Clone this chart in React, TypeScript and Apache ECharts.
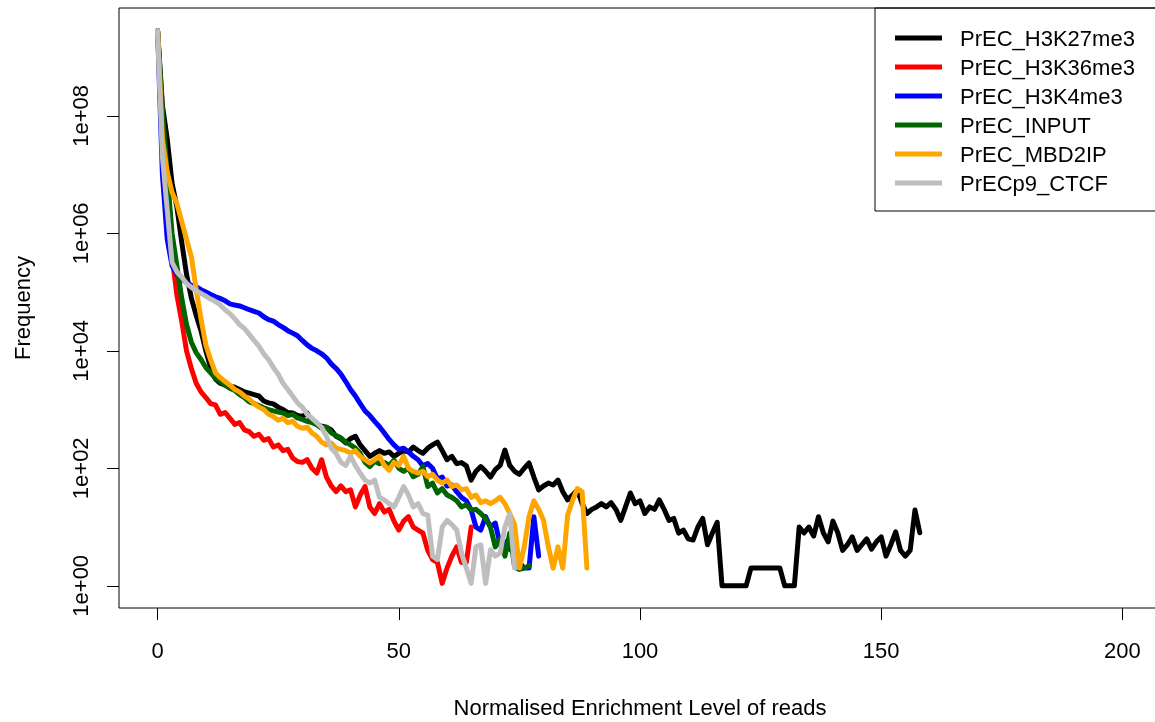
import React, { useEffect, useRef } from "react";
import * as echarts from "echarts";

const seriesNames = [
  "PrEC_H3K27me3",
  "PrEC_H3K36me3",
  "PrEC_H3K4me3",
  "PrEC_INPUT",
  "PrEC_MBD2IP",
  "PrECp9_CTCF",
];
const seriesColors = ["#000000", "#FF0000", "#0000FF", "#006400", "#FFA500", "#BEBEBE"];
const xTicks = [0, 50, 100, 150, 200];
const yTickExponents = [0, 2, 4, 6, 8];

// Frequency per enrichment level (index = level 0,1,2,...)
const h3k27me3 = [
  2.8e9, 1.5e8, 4.0e7, 7.1e6, 2.8e6, 7.1e5, 2.0e5, 7.9e4, 4.0e4, 2.2e4,
  1.0e4, 5200, 3300, 2800, 2600, 2500, 2400, 2200, 2000, 1900,
  1800, 1700, 1400, 1300, 1250, 1100, 1000, 890, 870, 790,
  760, 870, 630, 560, 520, 500, 450, 350, 320, 270,
  320, 350, 250, 200, 160, 180, 200, 180, 190, 160,
  180, 200, 190, 230, 200, 180, 220, 250, 280, 200,
  140, 160, 120, 125, 110, 63, 89, 107, 89, 71,
  95, 112, 204, 112, 89, 79, 100, 123, 71, 43,
  50, 56, 52, 63, 40, 29, 35, 43, 25, 17,
  20, 22, 25, 22, 26, 20, 13, 22, 38, 25,
  28, 17, 22, 20, 29, 20, 13, 14, 7.9, 8.9,
  6.3, 6, 10, 14, 5, 7.9, 12, 1, 1, 1,
  1, 1, 1, 2, 2, 2, 2, 2, 2, 2,
  1, 1, 1, 10, 7.9, 10, 7, 15, 8, 5.6,
  12.6, 8, 4, 5, 6.8, 4, 5, 6.3, 4.2, 5.6,
  6.8, 3.2, 5, 8.3, 4, 3.2, 4, 19.5, 8,
];
const h3k36me3 = [
  2.8e9, 1.0e8, 6.3e6, 4.0e5, 8.9e4, 3.2e4, 1.0e4, 5000, 2800, 2000,
  1600, 1260, 1200, 830, 890, 710, 560, 600, 450, 420,
  350, 380, 300, 320, 230, 250, 200, 210, 150, 130,
  126, 140, 100, 83, 140, 71, 50, 40, 50, 40,
  43, 22, 35, 49, 22, 17, 25, 18, 20, 12.6,
  8.9, 12.6, 15, 10, 8.9, 7.9, 4, 2.8, 2.5, 1.1,
  2, 3.2, 4.6, 2.5, 2.5, 10,
];
const h3k4me3 = [
  2.8e9, 1.0e7, 7.9e5, 2.8e5, 2.0e5, 1.66e5, 1.45e5, 1.3e5, 1.23e5, 1.1e5,
  1.0e5, 9.1e4, 8.3e4, 7.8e4, 7.1e4, 6.3e4, 6.0e4, 5.8e4, 5.4e4, 5.0e4,
  4.7e4, 4.4e4, 3.8e4, 3.4e4, 3.2e4, 2.8e4, 2.5e4, 2.2e4, 2.0e4, 1.8e4,
  1.5e4, 1.26e4, 1.1e4, 1.0e4, 8900, 7600, 6000, 5000, 4000, 3000,
  2200, 1700, 1260, 950, 790, 630, 510, 400, 310, 250,
  210, 220, 190, 160, 140, 110, 120, 100, 66, 71,
  50, 52, 40, 32, 28, 19.5, 10, 8.9, 15, 10,
  11.7, 5, 5.6, 4.2, 3.6, 2.5, 2, 2, 15, 3.2,
];
const input = [
  2.8e9, 1.26e8, 1.0e7, 1.0e6, 2.8e5, 7.9e4, 2.8e4, 1.4e4, 9300, 7100,
  5200, 4200, 3400, 3000, 2600, 2300, 2100, 1800, 1600, 1350,
  1260, 1170, 1070, 1000, 950, 910, 870, 790, 830, 720,
  680, 630, 600, 550, 480, 500, 400, 360, 330, 280,
  250, 220, 180, 126, 107, 132, 120, 126, 112, 138,
  100, 89, 100, 72, 79, 107, 49, 56, 38, 45,
  35, 32, 28, 22, 24, 19.5, 20, 17, 14, 10,
  4.6, 6.3, 3.2, 7.9, 2.1, 1.9, 2, 2.2,
];
const mbd2ip = [
  2.8e9, 4.0e7, 1.1e7, 5.0e6, 3.2e6, 1.6e6, 7.9e5, 4.0e5, 1.1e5, 3.5e4,
  1.26e4, 7000, 4200, 3500, 3000, 2600, 2200, 2000, 1700, 1500,
  1260, 1100, 1000, 830, 760, 660, 710, 600, 630, 520,
  480, 500, 400, 350, 280, 250, 270, 220, 210, 200,
  180, 200, 160, 140, 123, 140, 160, 112, 93, 126,
  112, 160, 100, 89, 83, 89, 72, 79, 63, 56,
  63, 49, 52, 43, 45, 32, 35, 26, 28, 25,
  28, 32, 25, 17, 11, 2, 4.6, 15, 28, 20,
  13, 4.6, 2, 4.6, 2, 16, 28, 45, 40, 2,
];
const ctcf = [
  2.8e9, 2.0e7, 2.5e6, 3.2e5, 2.2e5, 1.8e5, 1.4e5, 1.2e5, 1.05e5, 9.5e4,
  8.5e4, 7.6e4, 6.9e4, 6.0e4, 5.0e4, 4.3e4, 3.5e4, 2.8e4, 2.4e4, 1.9e4,
  1.5e4, 1.2e4, 8900, 7100, 5200, 4000, 2800, 2200, 1700, 1300,
  1100, 830, 710, 600, 500, 350, 220, 180, 126, 112,
  160, 112, 83, 63, 56, 63, 32, 29, 25, 22,
  32, 49, 35, 22, 25, 17, 16, 3.2, 2.8, 10,
  13, 11, 8.9, 3.6, 2, 1.1, 4.6, 5, 1.1, 4.1,
  3.2, 3.6, 10, 17, 2,
];

const allSeries = [h3k27me3, h3k36me3, h3k4me3, input, mbd2ip, ctcf];

const FONT = "'Liberation Sans', Arial, Helvetica, sans-serif";

export default function App() {
  const ref = useRef<HTMLDivElement>(null);
  useEffect(() => {
    const chart = echarts.init(ref.current!, null, { renderer: "svg" });
    chart.setOption({
      animation: false,
      textStyle: { fontFamily: FONT },
      grid: {
        left: 119,
        right: -6,
        top: 8,
        bottom: 114,
        show: true,
        borderColor: "#000",
        borderWidth: 1,
        backgroundColor: "transparent",
        containLabel: false,
        outerBoundsMode: "none",
      },
      xAxis: {
        type: "value",
        min: -8,
        max: 208,
        splitLine: { show: false },
        axisLine: { show: false, onZero: false },
        axisTick: {
          show: true,
          length: 12,
          customValues: xTicks,
          lineStyle: { color: "#000", width: 1 },
        },
        axisLabel: {
          customValues: xTicks,
          margin: 31,
          fontSize: 22,
          color: "#000",
          fontFamily: FONT,
        },
        name: "Normalised Enrichment Level of reads",
        nameLocation: "middle",
        nameGap: 88,
        nameTextStyle: { fontSize: 22, color: "#000", fontFamily: FONT },
      },
      yAxis: {
        type: "value",
        min: -0.378,
        max: 9.835,
        splitLine: { show: false },
        axisLine: { show: false, onZero: false },
        axisTick: {
          show: true,
          length: 12,
          customValues: yTickExponents,
          lineStyle: { color: "#000", width: 1 },
        },
        axisLabel: {
          customValues: yTickExponents,
          rotate: 90,
          margin: 28,
          fontSize: 22,
          color: "#000",
          fontFamily: FONT,
          formatter: (v: number) => "1e+" + String(Math.round(v)).padStart(2, "0"),
        },
        name: "Frequency",
        nameLocation: "middle",
        nameRotate: 90,
        nameGap: 86,
        nameTextStyle: { fontSize: 22, color: "#000", fontFamily: FONT },
      },
      legend: {
        show: true,
        orient: "vertical",
        left: 875,
        top: 8,
        padding: [19, 30, 17, 20],
        itemGap: 7,
        itemWidth: 47,
        itemHeight: 5,
        icon: "rect",
        borderColor: "#000",
        borderWidth: 1,
        selectedMode: false,
        textStyle: {
          fontSize: 22,
          lineHeight: 22,
          color: "#000",
          fontFamily: FONT,
          padding: [0, 0, 0, 13],
        },
        data: seriesNames,
      },
      series: allSeries.map((vals, k) => ({
        type: "line",
        name: seriesNames[k],
        color: seriesColors[k],
        showSymbol: false,
        symbol: "none",
        silent: true,
        lineStyle: { color: seriesColors[k], width: 5, cap: "round", join: "round" },
        emphasis: { disabled: true },
        data: vals.map((f, i) => [i, Math.log10(f)]),
      })),
    });
    return () => chart.dispose();
  }, []);
  return (
    <div
      ref={ref}
      style={{ position: "fixed", left: 0, top: 0, width: 1155, height: 722 }}
    />
  );
}
